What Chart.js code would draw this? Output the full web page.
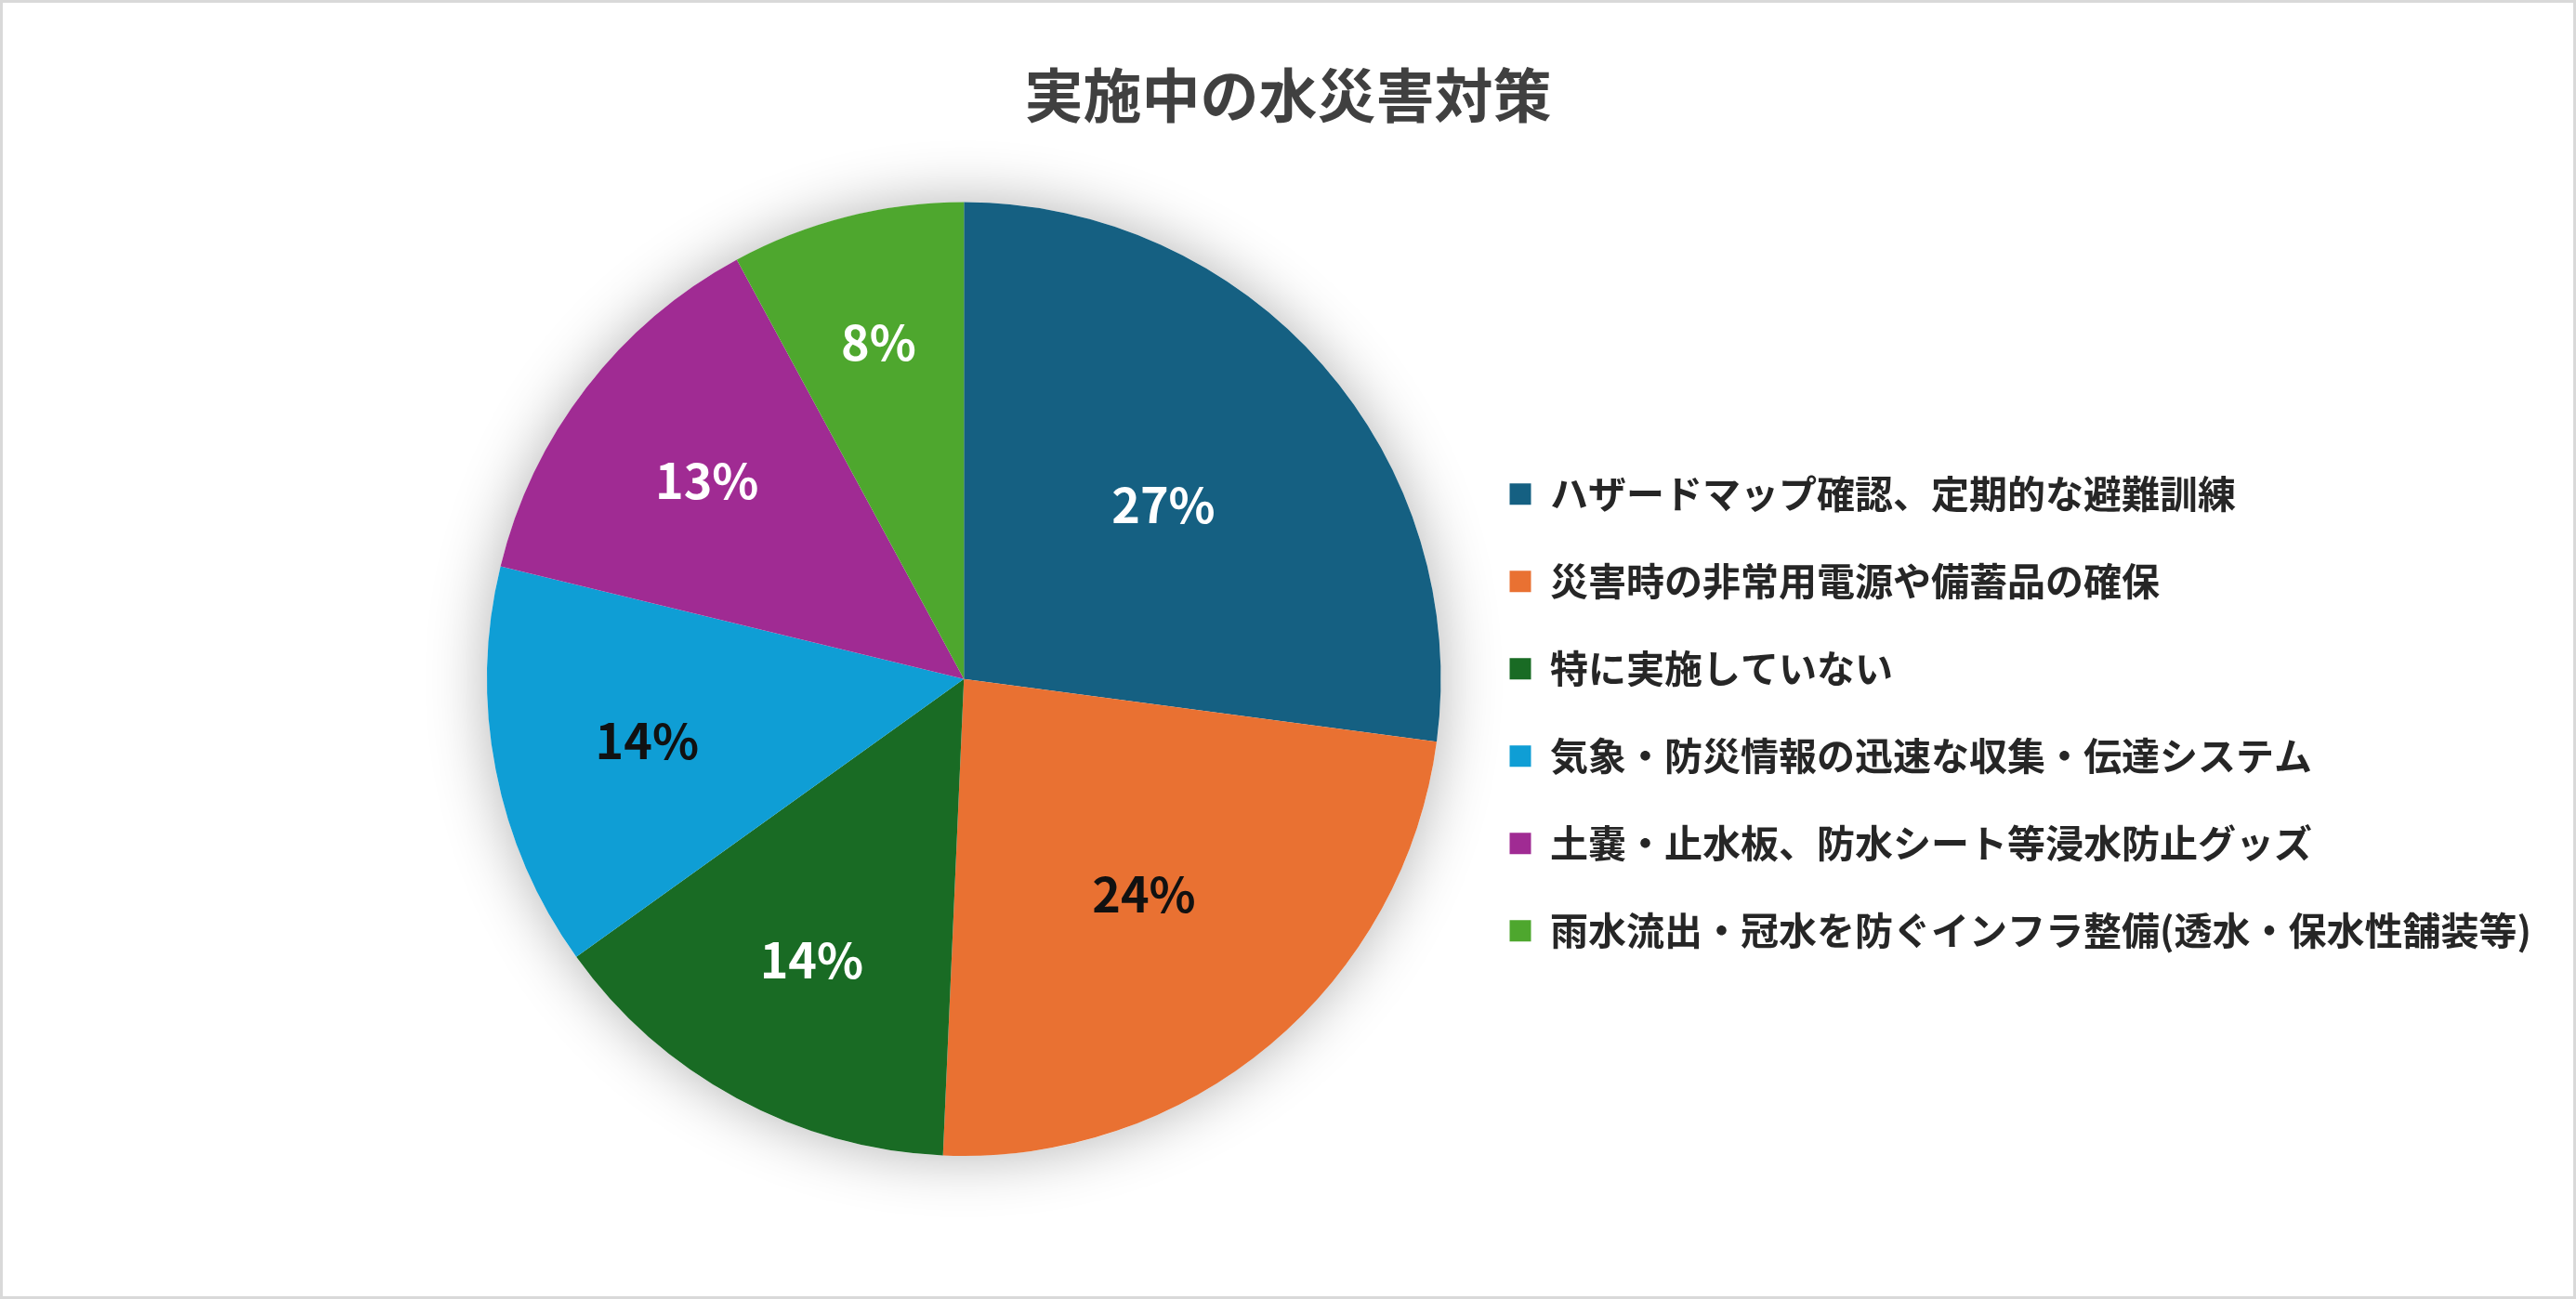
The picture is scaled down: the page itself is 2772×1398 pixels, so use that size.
<!DOCTYPE html>
<html lang="ja">
<head>
<meta charset="utf-8">
<script src="https://cdn.jsdelivr.net/npm/chart.js@4.4.1/dist/chart.umd.min.js"></script>
<style>
  html, body { margin: 0; padding: 0; background: #fff; }
  #wrap { width: 2772px; height: 1398px; position: relative; }
</style>
</head>
<body>
<div id="wrap"><canvas id="grafica-pie"></canvas></div>
<script>
const titulo = '実施中の水災害対策'

const categorias = [
    'ハザードマップ確認、定期的な避難訓練',
    '災害時の非常用電源や備蓄品の確保',
    '特に実施していない',
    '気象・防災情報の迅速な収集・伝達システム',
    '土嚢・止水板、防水シート等浸水防止グッズ',
    '雨水流出・冠水を防ぐインフラ整備(透水・保水性舗装等)'
]

const valores = [27.1, 23.6, 14.4, 13.7, 13.3, 7.9]

const colores = ['#156082', '#E97132', '#196B24', '#0F9ED5', '#A02B93', '#4EA72E']
const coloresEtiqueta = ['#ffffff', '#111111', '#ffffff', '#111111', '#ffffff', '#ffffff']

const fuente = '"Noto Sans CJK JP", "Noto Sans", sans-serif'

//? fondo blanco y marco gris
const fondo = {
    id: 'fondo',
    beforeDraw(chart) {
        const ctx = chart.ctx
        ctx.save()
        ctx.fillStyle = '#ffffff'
        ctx.fillRect(0, 0, chart.width, chart.height)
        ctx.strokeStyle = '#d9d9d9'
        ctx.lineWidth = 3
        ctx.strokeRect(1.5, 1.5, chart.width - 3, chart.height - 3)
        ctx.restore()
    }
}

//? sombra suave debajo del pastel
const sombra = {
    id: 'sombra',
    beforeDatasetsDraw(chart) {
        const arco = chart.getDatasetMeta(0).data[0]
        if (!arco) return
        const {x, y, outerRadius} = arco.getProps(['x', 'y', 'outerRadius'], true)
        const ctx = chart.ctx
        ctx.save()
        ctx.shadowColor = 'rgba(0, 0, 0, 0.3)'
        ctx.shadowBlur = 64
        ctx.fillStyle = '#ffffff'
        ctx.beginPath()
        ctx.arc(x, y, outerRadius, 0, Math.PI * 2)
        ctx.fill()
        ctx.restore()
    }
}

//? porcentajes dentro de cada porcion
const etiquetas = {
    id: 'etiquetas',
    afterDatasetsDraw(chart) {
        const ctx = chart.ctx
        const datos = chart.data.datasets[0].data
        const total = datos.reduce((a, b) => a + b, 0)
        ctx.save()
        ctx.font = 'bold 52px ' + fuente
        ctx.textAlign = 'center'
        ctx.textBaseline = 'middle'
        chart.getDatasetMeta(0).data.forEach((arco, i) => {
            const {x, y, startAngle, endAngle, outerRadius} =
                arco.getProps(['x', 'y', 'startAngle', 'endAngle', 'outerRadius'], true)
            const pct = datos[i] / total * 100
            const medio = (startAngle + endAngle) / 2
            const r = outerRadius * (0.80 - 0.009 * pct)
            ctx.fillStyle = coloresEtiqueta[i]
            ctx.fillText(Math.round(pct) + '%', x + Math.cos(medio) * r, y + Math.sin(medio) * r)
        })
        ctx.restore()
    }
}

const pie = document.getElementById('grafica-pie')

const grafPie = new Chart(pie, {
    type: 'pie',
    data: {
        labels: categorias,
        datasets: [
            {
                data: valores,
                backgroundColor: colores,
                borderWidth: 0,
                hoverOffset: 0
            }
        ]
    },
    options: {
        responsive: true,
        maintainAspectRatio: false,
        animation: false,
        devicePixelRatio: 1,
        layout: {
            padding: { left: 38, right: 38, top: 0, bottom: 154 }
        },
        // eje invisible: solo reserva espacio a la izquierda del pastel
        scales: {
            y: {
                display: true,
                position: 'left',
                ticks: { display: false },
                grid: { display: false },
                border: { display: false },
                afterFit(escala) { escala.width = 465 }
            }
        },
        plugins: {
            title: {
                display: true,
                text: titulo,
                color: '#404040',
                font: { family: fuente, size: 63, weight: 'bold', lineHeight: 1.2 },
                padding: { top: 64, bottom: 78 }
            },
            legend: {
                position: 'right',
                fullSize: false,
                maxWidth: 2000,
                title: {
                    display: true,
                    text: ' ',
                    font: { size: 10, lineHeight: 1.2 },
                    padding: { top: 30, bottom: 30 }
                },
                labels: {
                    boxWidth: 23,
                    boxHeight: 23,
                    padding: 53,
                    color: '#262626',
                    font: { family: fuente, size: 41, weight: 'bold' }
                }
            },
            tooltip: { enabled: false }
        }
    },
    plugins: [fondo, sombra, etiquetas]
})
</script>
</body>
</html>
